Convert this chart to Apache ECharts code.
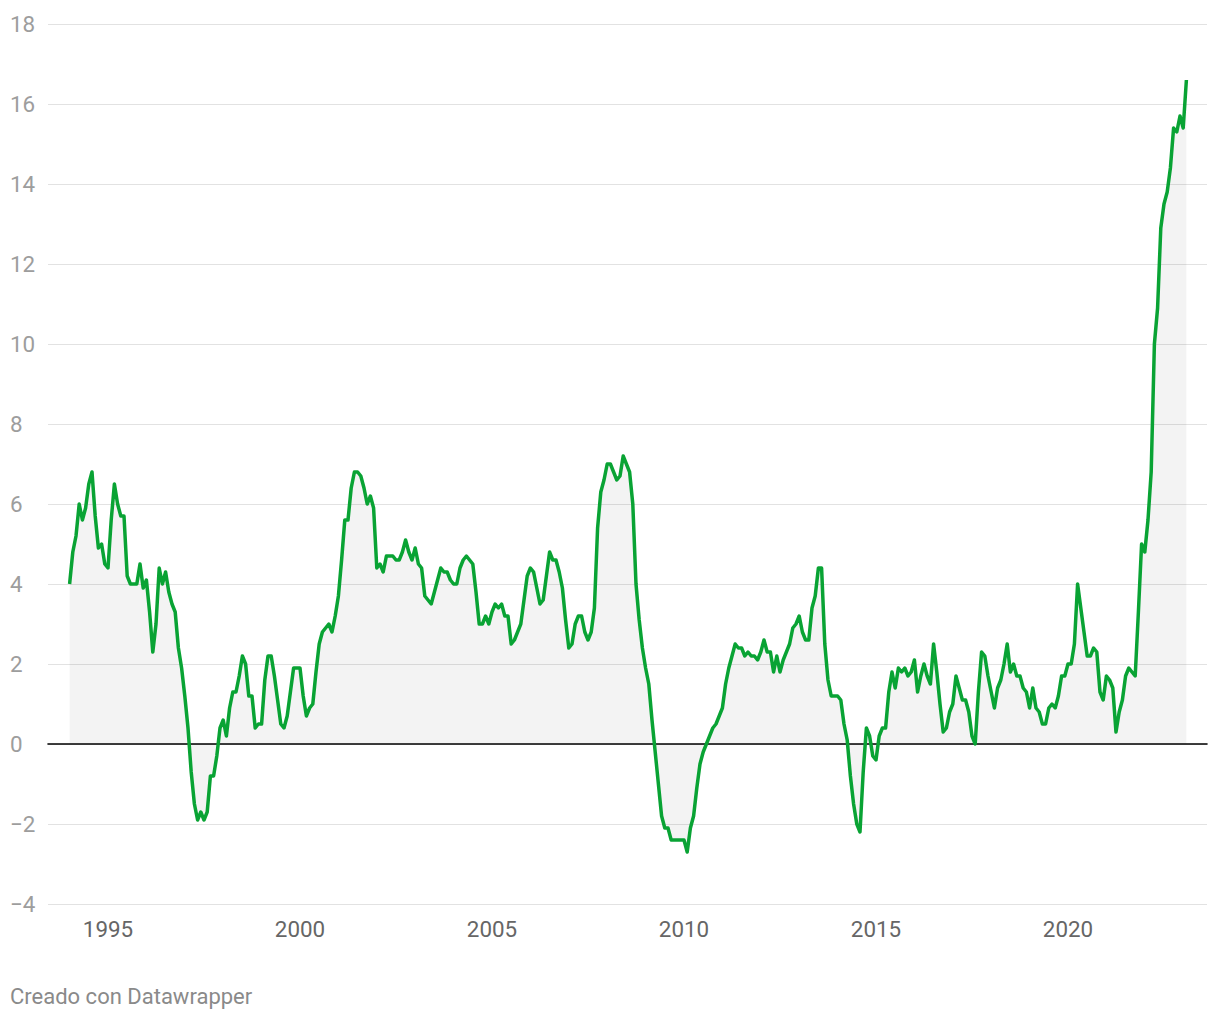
<!DOCTYPE html>
<html>
<head>
<meta charset="utf-8">
<script src="https://cdn.jsdelivr.net/npm/echarts@6/dist/echarts.min.js"></script>
<style>
  html, body { margin: 0; padding: 0; background: #fff; }
  #chart { width: 1220px; height: 1020px; }
</style>
</head>
<body>
<div id="chart"></div>
<script>
// Monthly values, starting January 1994
const START_YEAR = 1994;
const values = [
  4.0, 4.8, 5.2, 6.0, 5.6, 5.9, 6.5, 6.8, 5.7, 4.9, 5.0, 4.5,      // 1994
  4.4, 5.6, 6.5, 6.0, 5.7, 5.7, 4.2, 4.0, 4.0, 4.0, 4.5, 3.9,      // 1995
  4.1, 3.3, 2.3, 3.0, 4.4, 4.0, 4.3, 3.8, 3.5, 3.3, 2.4, 1.9,      // 1996
  1.2, 0.4, -0.7, -1.5, -1.9, -1.7, -1.9, -1.7, -0.8, -0.8, -0.3, 0.4, // 1997
  0.6, 0.2, 0.9, 1.3, 1.3, 1.7, 2.2, 2.0, 1.2, 1.2, 0.4, 0.5,      // 1998
  0.5, 1.6, 2.2, 2.2, 1.7, 1.1, 0.5, 0.4, 0.7, 1.3, 1.9, 1.9,      // 1999
  1.9, 1.2, 0.7, 0.9, 1.0, 1.8, 2.5, 2.8, 2.9, 3.0, 2.8, 3.2,      // 2000
  3.7, 4.6, 5.6, 5.6, 6.4, 6.8, 6.8, 6.7, 6.4, 6.0, 6.2, 5.9,      // 2001
  4.4, 4.5, 4.3, 4.7, 4.7, 4.7, 4.6, 4.6, 4.8, 5.1, 4.8, 4.6,      // 2002
  4.9, 4.5, 4.4, 3.7, 3.6, 3.5, 3.8, 4.1, 4.4, 4.3, 4.3, 4.1,      // 2003
  4.0, 4.0, 4.4, 4.6, 4.7, 4.6, 4.5, 3.8, 3.0, 3.0, 3.2, 3.0,      // 2004
  3.3, 3.5, 3.4, 3.5, 3.2, 3.2, 2.5, 2.6, 2.8, 3.0, 3.6, 4.2,      // 2005
  4.4, 4.3, 3.9, 3.5, 3.6, 4.2, 4.8, 4.6, 4.6, 4.3, 3.9, 3.1,      // 2006
  2.4, 2.5, 3.0, 3.2, 3.2, 2.8, 2.6, 2.8, 3.4, 5.4, 6.3, 6.6,      // 2007
  7.0, 7.0, 6.8, 6.6, 6.7, 7.2, 7.0, 6.8, 6.0, 4.0, 3.1, 2.4,      // 2008
  1.9, 1.5, 0.6, -0.2, -1.0, -1.8, -2.1, -2.1, -2.4, -2.4, -2.4, -2.4, // 2009
  -2.4, -2.7, -2.1, -1.8, -1.1, -0.5, -0.2, 0.0, 0.2, 0.4, 0.5, 0.7,  // 2010
  0.9, 1.5, 1.9, 2.2, 2.5, 2.4, 2.4, 2.2, 2.3, 2.2, 2.2, 2.1,      // 2011
  2.3, 2.6, 2.3, 2.3, 1.8, 2.2, 1.8, 2.1, 2.3, 2.5, 2.9, 3.0,      // 2012
  3.2, 2.8, 2.6, 2.6, 3.4, 3.7, 4.4, 4.4, 2.5, 1.6, 1.2, 1.2,      // 2013
  1.2, 1.1, 0.5, 0.1, -0.8, -1.5, -2.0, -2.2, -0.7, 0.4, 0.2, -0.3, // 2014
  -0.4, 0.2, 0.4, 0.4, 1.3, 1.8, 1.4, 1.9, 1.8, 1.9, 1.7, 1.8,     // 2015
  2.1, 1.3, 1.7, 2.0, 1.7, 1.5, 2.5, 1.8, 1.0, 0.3, 0.4, 0.8,      // 2016
  1.0, 1.7, 1.4, 1.1, 1.1, 0.8, 0.2, 0.0, 1.3, 2.3, 2.2, 1.7,      // 2017
  1.3, 0.9, 1.4, 1.6, 2.0, 2.5, 1.8, 2.0, 1.7, 1.7, 1.4, 1.3,      // 2018
  0.9, 1.4, 0.9, 0.8, 0.5, 0.5, 0.9, 1.0, 0.9, 1.2, 1.7, 1.7,      // 2019
  2.0, 2.0, 2.5, 4.0, 3.4, 2.8, 2.2, 2.2, 2.4, 2.3, 1.3, 1.1,      // 2020
  1.7, 1.6, 1.4, 0.3, 0.8, 1.1, 1.7, 1.9, 1.8, 1.7, 3.3, 5.0,      // 2021
  4.8, 5.6, 6.8, 10.0, 10.9, 12.9, 13.5, 13.8, 14.4, 15.4, 15.3, 15.7, // 2022
  15.4, 16.6                                                         // 2023
];
const xTickYears = [1995, 2000, 2005, 2010, 2015, 2020];
const yTickMin = -4;
const yTickMax = 18;
const yTickStep = 2;
const footerText = 'Creado con Datawrapper';

const seriesData = values.map((v, i) => [START_YEAR + i / 12, v]);

const chart = echarts.init(document.getElementById('chart'), null, { renderer: 'svg' });
chart.setOption({
  animation: false,
  backgroundColor: '#ffffff',
  textStyle: { fontFamily: 'Roboto, sans-serif' },
  title: {
    text: footerText,
    left: 10,
    top: 985,
    padding: 0,
    textStyle: { fontSize: 22, fontWeight: 'normal', color: '#8a8a8a', fontFamily: 'Roboto, sans-serif' }
  },
  grid: { left: 48, right: 13, top: 24, bottom: 116, containLabel: false },
  xAxis: {
    type: 'value',
    min: 1993.4375,
    max: 2023.62,
    axisLine: { show: true, onZero: true, lineStyle: { color: '#000000', width: 1.6 } },
    axisTick: { show: false },
    splitLine: { show: false },
    axisLabel: {
      customValues: xTickYears,
      formatter: v => String(Math.round(v)),
      fontSize: 22.4,
      color: '#666666',
      margin: 14,
      fontFamily: 'Roboto, sans-serif'
    }
  },
  yAxis: {
    type: 'value',
    min: yTickMin,
    max: yTickMax,
    interval: yTickStep,
    axisLine: { show: false },
    axisTick: { show: false },
    splitLine: { lineStyle: { color: '#e2e2e2', width: 1 } },
    axisLabel: {
      align: 'left',
      margin: 38,
      fontSize: 22.4,
      color: '#9d9d9d',
      fontFamily: 'Roboto, sans-serif',
      formatter: v => (v < 0 ? '\u2212' + Math.abs(v) : String(v))
    }
  },
  series: [{
    type: 'line',
    data: seriesData,
    showSymbol: false,
    symbol: 'none',
    lineStyle: { color: '#09a334', width: 3.5, join: 'round' },
    areaStyle: { color: 'rgba(0,0,0,0.065)', origin: 0 },
    z: 2
  }]
});
</script>
</body>
</html>
